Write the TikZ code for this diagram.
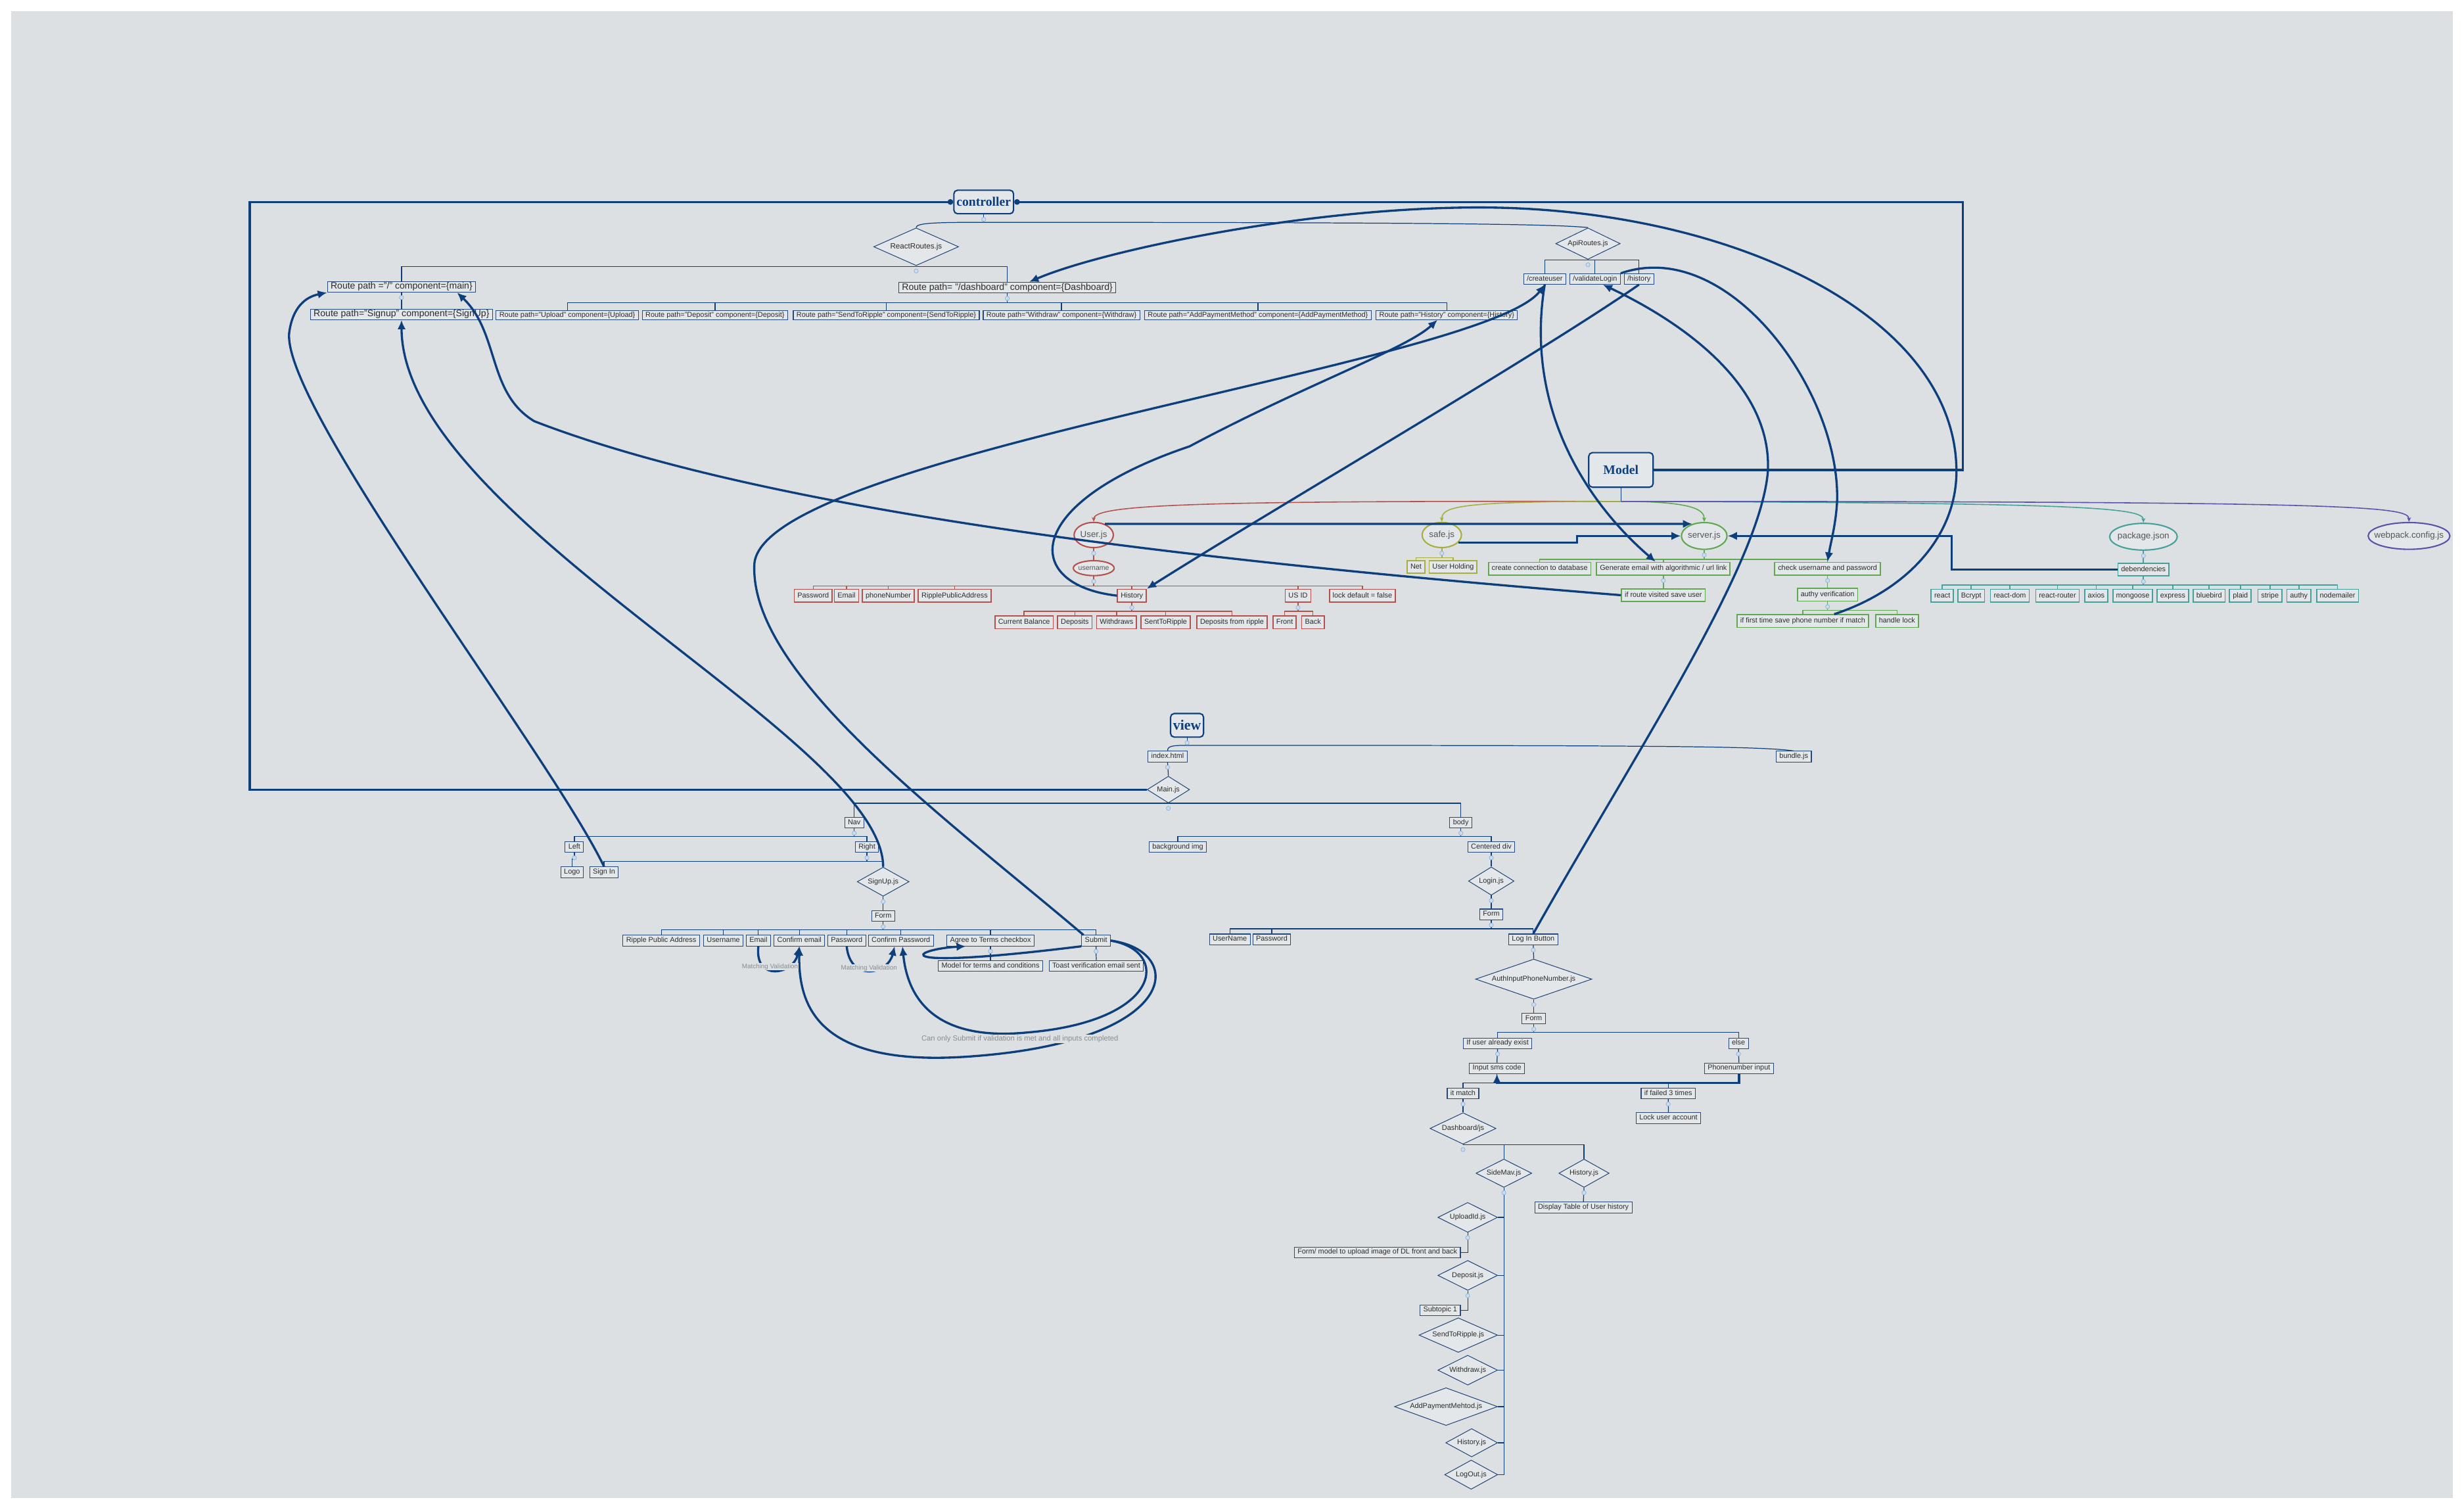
\documentclass[tikz,border=0pt]{standalone}
\usepackage{fontspec}
\setmainfont{Liberation Sans}
\newfontfamily\titlefont{Liberation Serif}
\usepackage{tikz}
\usetikzlibrary{arrows.meta,shapes.geometric,calc,positioning}

\definecolor{paper}{HTML}{DDE0E2}
\definecolor{boxbg}{HTML}{E4E7E9}
\definecolor{navy}{HTML}{0D3F7C}
\definecolor{boxline}{HTML}{24497A}
\definecolor{ink}{HTML}{2B2B2B}
\definecolor{ellink}{HTML}{555555}
\definecolor{redc}{HTML}{B5514D}
\definecolor{olivec}{HTML}{A7AD3F}
\definecolor{greenc}{HTML}{5FA84F}
\definecolor{tealc}{HTML}{43A09A}
\definecolor{purplec}{HTML}{5A52A8}
\definecolor{notec}{HTML}{8A8D90}
\definecolor{minfill}{HTML}{C9DCF0}
\definecolor{mindraw}{HTML}{8DB0D8}

\newcommand\fs[1]{\fontsize{#1}{#1}\selectfont}

\tikzstyle{topic}=[draw=boxline, fill=boxbg, line width=.3pt, inner xsep=1.4pt,
                   inner ysep=.8pt, text=ink, font=\fs{3.1},
                   text height=2.3pt, text depth=.7pt]
\tikzstyle{route}=[topic, inner ysep=.4pt]
\tikzstyle{routebig}=[route, font=\fs{4}, text height=2.95pt, text depth=.9pt]
\tikzstyle{mtopic}=[topic, inner ysep=1.25pt, line width=.5pt]
\tikzstyle{dia}=[diamond, draw=boxline, fill=boxbg, line width=.3pt, inner sep=0pt,
                 aspect=2.5, text=ink, font=\fs{3.1}]
\tikzstyle{ell}=[ellipse, fill=boxbg, line width=.6pt, inner xsep=-1pt,
                 inner ysep=0pt, text=ellink, font=\fs{3.8}]
\tikzstyle{title}=[draw=navy, fill=boxbg, rounded corners=1.6pt, line width=.6pt,
                   inner sep=0pt, text=navy, font=\titlefont\bfseries\fs{5.6}]
\tikzstyle{tl}=[draw=navy, line width=.35pt]
\tikzstyle{redl}=[draw=redc, line width=.45pt]
\tikzstyle{olivel}=[draw=olivec, line width=.45pt]
\tikzstyle{greenl}=[draw=greenc, line width=.45pt]
\tikzstyle{teall}=[draw=tealc, line width=.45pt]
\tikzstyle{purplel}=[draw=purplec, line width=.45pt]
\tikzstyle{rel}=[draw=navy, line width=.95pt, -{Latex[length=4pt,width=3.6pt]}]
\tikzstyle{framel}=[draw=navy, line width=.95pt, {Circle[length=2.4pt]}-]
\tikzstyle{smalltip}=[-{Stealth[length=2pt,width=1.7pt]}]
\tikzstyle{note}=[fill=paper, inner sep=.3pt, text=notec, font=\fs{2.8}]
\tikzstyle{fold}=[circle, fill=minfill, draw=mindraw, line width=.2pt,
                  inner sep=0pt, minimum size=1.8pt]
\tikzset{wh/.style 2 args={minimum width=#1*0.2391mm, minimum height=#2*0.2391mm}}
\newcommand\tbranch[4][tl]{\foreach \kid in {#4}{\draw[#1] (#2.south) -- ++(0,#3) -| (\kid.north);}}

\begin{document}
\begin{tikzpicture}[x=0.2391mm, y=-0.2391mm]
\fill[white] (0,0) rectangle (1568,954.4);
\fill[paper] (7,7) rectangle (1561,953);
\useasboundingbox (0,0) rectangle (1568,954.4);

% controller
\node[title, wh={38}{15}] (ctrl) at (626,128.5) {controller};
\node[dia, wh={54}{24}, font=\fs{3.3}] (react) at (583,157) {ReactRoutes.js};
\node[dia, wh={41}{20}] (api) at (1010.5,155) {ApiRoutes.js};
\node[topic] (cuser) at (983,177.5) {/createuser};
\node[topic] (vlog) at (1015,177.5) {/validateLogin};
\node[topic] (ahist) at (1043,177.5) {/history};
\node[routebig] (route1) at (255.5,182.5) {Route path ="/" component=\{main\}};
\node[routebig] (route2) at (255.5,200) {Route path="Signup" component=\{SignUp\}};
\node[routebig] (rdash) at (641,183) {Route path= "/dashboard" component=\{Dashboard\}};
\node[route] (rupload) at (361,200.5) {Route path="Upload" component=\{Upload\}};
\node[route] (rdeposit) at (455,200.5) {Route path="Deposit" component=\{Deposit\}};
\node[route] (rsend) at (564,200.5) {Route path="SendToRipple" component=\{SendToRipple\}};
\node[route] (rwithdraw) at (675.5,200.5) {Route path="Withdraw" component=\{Withdraw\}};
\node[route] (rpay) at (800.5,200.5) {Route path="AddPaymentMethod" component=\{AddPaymentMethod\}};
\node[route] (rhist) at (920.7,200.5) {Route path="History" component=\{History\}};

% model
\node[title, wh={41}{22}] (model) at (1031.5,299) {Model};
\node[ell, draw=redc, wh={25}{16}] (user) at (696,340.4) {User.js};
\node[ell, draw=redc, wh={26}{9.5}, font=\fs{3}] (uname) at (696,361.5) {username};
\node[mtopic, draw=redc] (pw) at (517.5,379) {Password};
\node[mtopic, draw=redc] (em) at (538.7,379) {Email};
\node[mtopic, draw=redc] (phonenr) at (565.3,379) {phoneNumber};
\node[mtopic, draw=redc] (ripple) at (607.5,379) {RipplePublicAddress};
\node[mtopic, draw=redc] (mhist) at (720.3,379) {History};
\node[mtopic, draw=redc] (usid) at (826,379) {US ID};
\node[mtopic, draw=redc] (lock) at (867,379) {lock default = false};
\node[mtopic, draw=redc] (cbal) at (651.7,396) {Current Balance};
\node[mtopic, draw=redc] (mdep) at (684,396) {Deposits};
\node[mtopic, draw=redc] (mwdr) at (710.5,396) {Withdraws};
\node[mtopic, draw=redc] (ms2r) at (741.8,396) {SentToRipple};
\node[mtopic, draw=redc] (mdfr) at (784,396) {Deposits from ripple};
\node[mtopic, draw=redc] (front) at (817.5,396) {Front};
\node[mtopic, draw=redc] (back) at (835.5,396) {Back};

\node[ell, draw=olivec, wh={25}{16}] (safe) at (917.5,340.4) {safe.js};
\node[mtopic, draw=olivec] (net) at (901.1,360.8) {Net};
\node[mtopic, draw=olivec] (uhold) at (924.7,360.8) {User Holding};

\node[ell, draw=greenc, wh={29}{17}] (server) at (1084.5,341) {server.js};
\node[mtopic, draw=greenc] (conn) at (979.8,361.8) {create connection to database};
\node[mtopic, draw=greenc] (gen) at (1058.5,361.8) {Generate email with algorithmic / url link};
\node[mtopic, draw=greenc] (chk) at (1163,361.8) {check username and password};
\node[mtopic, draw=greenc] (visit) at (1058.5,378.7) {if route visited save user};
\node[mtopic, draw=greenc] (authy) at (1163,378.4) {authy verification};
\node[mtopic, draw=greenc] (first) at (1147.2,395.2) {if first time save phone number if match};
\node[mtopic, draw=greenc] (hlock) at (1207.2,395.2) {handle lock};

\node[ell, draw=tealc, wh={43}{17}] (pkg) at (1364,341.5) {package.json};
\node[mtopic, draw=tealc] (deps) at (1364,362.4) {debendencies};
\foreach \x/\n/\t in {1236/d1/react, 1254.4/d2/Bcrypt, 1279/d3/react-dom,
    1309.3/d4/react-router, 1333.9/d5/axios, 1357.2/d6/mongoose,
    1382.7/d7/express, 1405.8/d8/bluebird, 1425.7/d9/plaid,
    1444.5/d10/stripe, 1462.9/d11/authy, 1487.5/d12/nodemailer}
  \node[mtopic, draw=tealc] (\n) at (\x,379) {\t};

\node[ell, draw=purplec, wh={52}{17}, inner xsep=-2.5pt] (webpack) at (1533,341) {webpack.config.js};

% view
\node[title, wh={21}{15}, font=\titlefont\bfseries\fs{6.2}] (view) at (755.4,461.5) {view};
\node[topic] (index) at (743,481.4) {index.html};
\node[topic] (bundle) at (1141.5,481.4) {bundle.js};
\node[dia, wh={27}{17}] (mainjs) at (743.5,502.4) {Main.js};
\node[topic] (nav) at (543.6,523.3) {Nav};
\node[topic] (body) at (929.6,523.3) {body};
\node[topic] (left) at (365.5,539) {Left};
\node[topic] (right) at (551.7,539) {Right};
\node[topic] (logo) at (364,555) {Logo};
\node[topic] (signin) at (384.4,555) {Sign In};
\node[dia, wh={33}{18.5}] (signup) at (562,561) {SignUp.js};
\node[topic] (sform) at (562,582.8) {Form};
\node[topic] (rpa) at (420.8,598.5) {Ripple Public Address};
\node[topic] (suser) at (460.3,598.5) {Username};
\node[topic] (email) at (482.6,598.5) {Email};
\node[topic] (cemail) at (508.7,598.5) {Confirm email};
\node[topic] (spw) at (538.8,598.5) {Password};
\node[topic] (cpw) at (573.3,598.5) {Confirm Password};
\node[topic] (agree) at (630.3,598.5) {Agree to Terms checkbox};
\node[topic] (submit) at (697.5,598.5) {Submit};
\node[topic] (terms) at (630.3,614.5) {Model for terms and conditions};
\node[topic] (toast) at (697.6,614.5) {Toast verification email sent};

\node[topic] (bgimg) at (749.5,539) {background img};
\node[topic] (cdiv) at (949,539) {Centered div};
\node[dia, wh={29}{18}] (login) at (949,560.6) {Login.js};
\node[topic] (lform) at (949,581.8) {Form};
\node[topic] (luser) at (782.6,597.7) {UserName};
\node[topic] (lpw) at (809.3,597.7) {Password};
\node[topic] (lbtn) at (975.7,597.7) {Log In Button};
\node[dia, wh={74}{25}] (auth) at (976,623) {AuthInputPhoneNumber.js};
\node[topic] (aform) at (976,648) {Form};
\node[topic] (exist) at (953,663.8) {If user already exist};
\node[topic] (otherwise) at (1106.3,663.8) {else};
\node[topic] (sms) at (952.6,679.7) {Input sms code};
\node[topic] (phone) at (1106.6,679.7) {Phonenumber input};
\node[topic] (match) at (931,695.7) {it match};
\node[topic] (failed) at (1061.6,695.7) {if failed 3 times};
\node[topic] (lockacc) at (1061.7,711.4) {Lock user account};
\node[dia, wh={42}{20}] (dashjs) at (931,718) {Dashboard/js};
\node[dia, wh={35.5}{18}] (side) at (957,746.5) {SideMav.js};
\node[dia, wh={32}{18}] (vhist) at (1008,746.5) {History.js};
\node[topic] (table) at (1007.6,768.3) {Display Table of User history};
\node[dia, wh={38}{19}] (upl) at (934,774.6) {UploadId.js};
\node[topic] (formdl) at (876.5,796.8) {Form/ model to upload image of DL front and back};
\node[dia, wh={38}{19}] (depjs) at (934,811.5) {Deposit.js};
\node[topic] (sub1) at (916.5,833.6) {Subtopic 1};
\node[dia, wh={50}{22}] (s2rjs) at (928,849.5) {SendToRipple.js};
\node[dia, wh={38}{19}] (wdrjs) at (934,871.8) {Withdraw.js};
\node[dia, wh={65.6}{24}] (addpay) at (920.2,895) {AddPaymentMehtod.js};
\node[dia, wh={33}{18}] (hist2) at (936.5,918) {History.js};
\node[dia, wh={33.7}{18.6}] (logout) at (936.2,938.3) {LogOut.js};

% tree lines
\draw[tl] (ctrl.south) -- ++(0,5) coordinate (cj);
\draw[tl] (cj) .. controls +(-30,0) and +(0,-3) .. (react.north);
\draw[tl] (cj) .. controls +(300,0) and +(-20,-2) .. (api.north);
\tbranch{react}{0.5}{route1,rdash}
\draw[tl] (route1.south) -- (route2.north);
\tbranch{rdash}{5.9}{rupload,rdeposit,rsend,rwithdraw,rpay,rhist}
\tbranch{api}{0.3}{cuser,vlog,ahist}

\draw[tl] (model.south) -- ++(0,8.6) coordinate (mj);
\draw[redl, smalltip] (mj) .. controls (760,318.6) and (696,321) .. (user.north);
\draw[olivel, smalltip] (mj) .. controls (930,319) and (917.5,322) .. (safe.north);
\draw[greenl, smalltip] (mj) .. controls (1080,319) and (1084.5,325) .. (server.north);
\draw[teall, smalltip] (mj) .. controls (1330,320) and (1364,323) .. (pkg.north);
\draw[purplel, smalltip] (mj) .. controls (1500,319) and (1533,322) .. (webpack.north);
\draw[redl] (user.south) -- (uname.north);
\tbranch[redl]{uname}{6.2}{pw,em,phonenr,ripple,mhist,usid,lock}
\tbranch[redl]{mhist}{5.6}{cbal,mdep,mwdr,ms2r,mdfr}
\tbranch[redl]{usid}{5.6}{front,back}
\tbranch[olivel]{safe}{6.1}{net,uhold}
\tbranch[greenl]{server}{6}{conn,gen,chk}
\draw[greenl] (gen.south) -- (visit.north);
\draw[greenl] (chk.south) -- (authy.north);
\tbranch[greenl]{authy}{5.6}{first,hlock}
\draw[teall] (pkg.south) -- (deps.north);
\tbranch[teall]{deps}{5.5}{d1,d2,d3,d4,d5,d6,d7,d8,d9,d10,d11,d12}

\draw[tl] (view.south) -- ++(0,4.8) coordinate (vj);
\draw[tl] (vj) .. controls +(-10,0) and +(0,-3) .. (index.north);
\draw[tl] (vj) .. controls +(300,0) and +(-20,-3) .. (bundle.north);
\draw[tl] (index.south) -- (mainjs.north);
\tbranch{mainjs}{0}{nav,body}
\tbranch{nav}{5.4}{left,right}
\tbranch{left}{4}{logo}
\tbranch{right}{5.5}{signin,signup}
\draw[tl] (signup.south) -- (sform.north);
\tbranch{sform}{5.2}{rpa,suser,email,cemail,spw,cpw,agree,submit}
\draw[tl] (agree.south) -- (terms.north);
\draw[tl] (submit.south) -- (toast.north);
\tbranch{body}{5.4}{bgimg,cdiv}
\draw[tl] (cdiv.south) -- (login.north);
\draw[tl] (login.south) -- (lform.north);
\tbranch{lform}{5.6}{luser,lpw,lbtn}
\draw[tl] (lbtn.south) -- (auth.north);
\draw[tl] (auth.south) -- (aform.north);
\tbranch{aform}{5.1}{exist,otherwise}
\draw[tl] (exist.south) -- (sms.north);
\draw[tl] (otherwise.south) -- (phone.north);
\tbranch{sms}{5.7}{match,failed}
\draw[tl] (failed.south) -- (lockacc.north);
\draw[tl] (match.south) -- (dashjs.north);
\tbranch{dashjs}{0}{side,vhist}
\draw[tl] (vhist.south) -- (table.north);
\foreach \kid in {upl,depjs,s2rjs,wdrjs,addpay,hist2,logout}
  \draw[tl] (side.south) |- (\kid.east);
\draw[tl] (upl.south) |- (formdl.east);
\draw[tl] (depjs.south) |- (sub1.east);

% frame between the three parts
\draw[framel] (ctrl.west) -| (159,502.4) -- (mainjs.west);
\draw[framel] (ctrl.east) -| (1249,299) -- (model.east);

% relations
\draw[rel] (user.45) -- (server.135);
\draw[rel] (safe.-25) -| (1003.5,341) -- (server.west);
\draw[rel] (deps.west) -| (1242,341) -- (server.east);
\draw[rel] (phone.south) -- ++(0,5.7) -| (sms.south);
\draw[rel] (signin.north) .. controls (350,480) and (180,260) .. (184,212)
           .. controls (186,196) and (194,189) .. (route1.south west);
\draw[rel] (signup.north) .. controls (562,470) and (256,330) .. (route2.south);
\draw[rel] ($(submit.north)+(-8,0)$) .. controls (600,519) and (478,430) .. (480,360)
           .. controls (480,290) and (945,232) .. (cuser.south);
\draw[rel] (mhist.west) .. controls (650,372) and (650,320) .. (757,284)
           .. controls (830,245) and (895,222) .. ($(rhist.south)+(-6,0)$);
\draw[rel] (ahist.south) .. controls (980,225) and (800,330) .. (mhist.north east);
\draw[rel] (cuser.south) .. controls (970,260) and (1010,320) .. ($(gen.north)+(-5,0)$);
\draw[rel] (lbtn.north) .. controls (1040,480) and (1120,360) .. (1125,300)
           .. controls (1128,240) and (1060,200) .. ($(vlog.south)+(5,0)$);
\draw[rel] (vlog.north east) .. controls (1100,150) and (1172,250) .. (1169,320)
           .. controls (1168,335) and (1165,345) .. (chk.north);
\draw[rel] ($(first.north)+(20,0)$) .. controls (1215,375) and (1245,340) .. (1245,300)
           .. controls (1245,200) and (1100,132) .. (941,132)
           .. controls (830,132) and (700,160) .. ($(rdash.north)+(14,0)$);
\draw[rel] (visit.west) .. controls (800,360) and (500,330) .. (340,268)
           .. controls (310,250) and (318,212) .. ($(route1.south east)+(-12,0)$);

% sign up form checks
\draw[rel] (email.south) .. controls (480,625) and (505,620) .. (cemail.south);
\draw[rel] (spw.south) .. controls (541,625) and (565,620) .. ($(cpw.south)+(-4,0)$);
\draw[rel] (submit.south west) .. controls (560,618) and (580,604) .. ($(agree.south)+(-15.7,0)$);
\draw[rel] (submit.east) .. controls (745,605) and (740,650) .. (653,657)
           .. controls (600,662) and (578,640) .. ($(cpw.south)+(1,0)$);
\draw[rel] (submit.east) .. controls (755,605) and (752,662) .. (620,672)
           .. controls (520,680) and (508,640) .. (cemail.south);
\node[note] (mv1) at (490,615) {Matching Validation};
\node[note] (mv2) at (553,616) {Matching Validation};
\node[note, font=\fs{3.2}] (only) at (649,661) {Can only Submit if validation is met and all inputs completed};

% fold markers
\foreach \n in {ctrl,react,route1,rdash,api,user,uname,mhist,usid,safe,server,gen,
    chk,authy,pkg,deps,view,index,mainjs,nav,left,right,signup,sform,agree,submit,
    body,cdiv,login,lform,lbtn,auth,aform,exist,otherwise,match,failed,dashjs,side,
    vhist,upl,depjs}
  \node[fold] at ($(\n.south)+(0,3.2)$) {};
\end{tikzpicture}
\end{document}
